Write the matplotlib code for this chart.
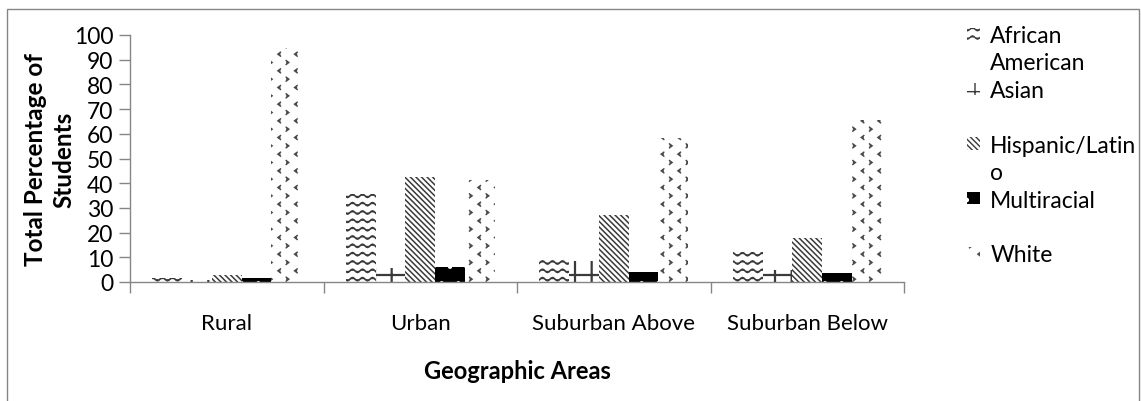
import warnings
import numpy as np
import matplotlib
matplotlib.use("Agg")
import matplotlib.pyplot as plt
import matplotlib.patches as mpatches
from matplotlib import hatch as mhatch
from matplotlib.path import Path

warnings.filterwarnings("ignore")

# ---- data -------------------------------------------------------------
areas = ["Rural", "Urban", "Suburban Above", "Suburban Below"]
african_american = [1.5, 35.5, 9.0, 12.3]
asian = [1.0, 5.5, 8.5, 5.0]
hispanic_latino = [3.0, 42.7, 27.0, 18.0]
multiracial = [1.7, 6.0, 4.2, 3.8]
white = [94.6, 41.2, 58.5, 65.5]

series_names = ["African American", "Asian", "Hispanic/Latino", "Multiracial", "White"]
legend_lines = ["African", "American", "Asian", " ", "Hispanic/Latin", "o",
                "Multiracial", " ", "White"]
y_ticks = list(range(0, 101, 10))


# ---- extra fill patterns: wavy lines ('w') and chevrons ('c') ---------
class WaveHatch(mhatch.HatchPatternBase):
    def __init__(self, hatch, density):
        self.num_lines = int(hatch.count("w") * density)
        self.pts = 81
        self.num_vertices = self.num_lines * self.pts

    def set_vertices_and_codes(self, vertices, codes):
        t = np.linspace(0.0, 1.0, self.pts)
        step = 1.0 / self.num_lines
        for i in range(self.num_lines):
            y0 = (i + 0.5) * step
            seg = slice(i * self.pts, (i + 1) * self.pts)
            vertices[seg, 0] = t
            vertices[seg, 1] = y0 + 0.016 * np.sin(2 * np.pi * 10 * t)
            codes[seg] = Path.LINETO
            codes[i * self.pts] = Path.MOVETO


class ChevronHatch(mhatch.HatchPatternBase):
    def __init__(self, hatch, density):
        self.n = int(hatch.count("c") * density)
        self.num_vertices = self.n * self.n * 2 * 3

    def set_vertices_and_codes(self, vertices, codes):
        cell = 1.0 / self.n
        w, h = 0.16 * cell, 0.24 * cell
        k = 0
        for r in range(self.n):
            for c in range(self.n):
                # '>' in the lower-left quarter, '<' in the upper-right quarter
                for cx, cy, s in ((0.25, 0.25, 1), (0.75, 0.75, -1)):
                    x = (c + cx) * cell
                    y = (r + cy) * cell
                    vertices[k] = (x - s * w / 2, y + h / 2)
                    vertices[k + 1] = (x + s * w / 2, y)
                    vertices[k + 2] = (x - s * w / 2, y - h / 2)
                    codes[k] = Path.MOVETO
                    codes[k + 1] = Path.LINETO
                    codes[k + 2] = Path.LINETO
                    k += 3


mhatch._hatch_types.extend([WaveHatch, ChevronHatch])

# ---- styling ----------------------------------------------------------
plt.rcParams["font.family"] = ["Lato", "DejaVu Sans"]
GRAY = "#868686"
INK = "#3a3a3a"

styles = [
    dict(facecolor="white", edgecolor=INK, hatch="ww", hlw=1.2),
    dict(facecolor="white", edgecolor=INK, hatch="+", hlw=1.6),
    dict(facecolor="white", edgecolor=INK, hatch="\\\\\\\\\\\\", hlw=1.1),
    dict(facecolor="black", edgecolor="white", hatch=".", hlw=0.8),
    dict(facecolor="white", edgecolor="#4a4a4a", hatch="c", hlw=1.0),
]

fig = plt.figure(figsize=(11.41, 4.02), dpi=100)
ax = fig.add_axes([130 / 1141, 1 - 283 / 402, (904 - 130) / 1141, (283 - 36) / 402])

values = [african_american, asian, hispanic_latino, multiracial, white]
n_series = len(values)
bar_w = 1.0 / (n_series + 1.5)
x = np.arange(len(areas))

handles = []
for j, (vals, st) in enumerate(zip(values, styles)):
    bars = ax.bar(x + (j - (n_series - 1) / 2) * bar_w, vals, width=bar_w,
                  facecolor=st["facecolor"], edgecolor=st["edgecolor"],
                  hatch=st["hatch"], linewidth=0, label=series_names[j], zorder=2)
    for b in bars:
        if hasattr(b, "set_hatch_linewidth"):
            b.set_hatch_linewidth(st["hlw"])
    h = mpatches.Patch(facecolor=st["facecolor"], edgecolor=st["edgecolor"],
                       hatch=st["hatch"], linewidth=0)
    if hasattr(h, "set_hatch_linewidth"):
        h.set_hatch_linewidth(st["hlw"])
    handles.append(h)

ax.set_xlim(-0.5, len(areas) - 0.5)
ax.set_ylim(0, 100)
ax.set_yticks(y_ticks)
ax.tick_params(axis="y", direction="out", length=8, width=1, color=GRAY,
               labelsize=16.5, pad=4)

# category boundaries carry the tick marks, centres carry the labels
ax.set_xticks(np.arange(len(areas) + 1) - 0.5)
ax.set_xticklabels([])
ax.set_xticks(x, minor=True)
ax.set_xticklabels(areas, minor=True)
ax.tick_params(axis="x", which="major", direction="out", length=8, width=1, color=GRAY)
ax.tick_params(axis="x", which="minor", length=0, labelsize=16, pad=22)

for side in ("top", "right"):
    ax.spines[side].set_visible(False)
for side in ("left", "bottom"):
    ax.spines[side].set_color(GRAY)
    ax.spines[side].set_linewidth(1)

ax.set_xlabel("Geographic Areas", fontsize=17, fontweight="bold", labelpad=19)
ax.set_ylabel("Total Percentage of\nStudents", fontsize=17.5, fontweight="bold",
              labelpad=-1.5, linespacing=1.32)

# legend: two text rows per series, the second one for wrapped text
blank = mpatches.Patch(facecolor="none", edgecolor="none", linewidth=0)
leg_handles = [handles[0], blank, handles[1], blank, handles[2], blank,
               handles[3], blank, handles[4]]
fig.legend(leg_handles, legend_lines, loc="upper left",
           bbox_to_anchor=(967 / 1141, 1 - 26 / 402), frameon=False,
           fontsize=16.5, handlelength=0.57, handleheight=0.45, handletextpad=0.45,
           labelspacing=0.28, borderpad=0, borderaxespad=0)

# outer chart border
fig.patches.append(mpatches.Rectangle((7 / 1141, -0.1), (1139 - 7) / 1141,
                                      1.1 - 10 / 402, transform=fig.transFigure,
                                      fill=False, edgecolor=GRAY, linewidth=1))

fig.savefig("out.png", dpi=100)
